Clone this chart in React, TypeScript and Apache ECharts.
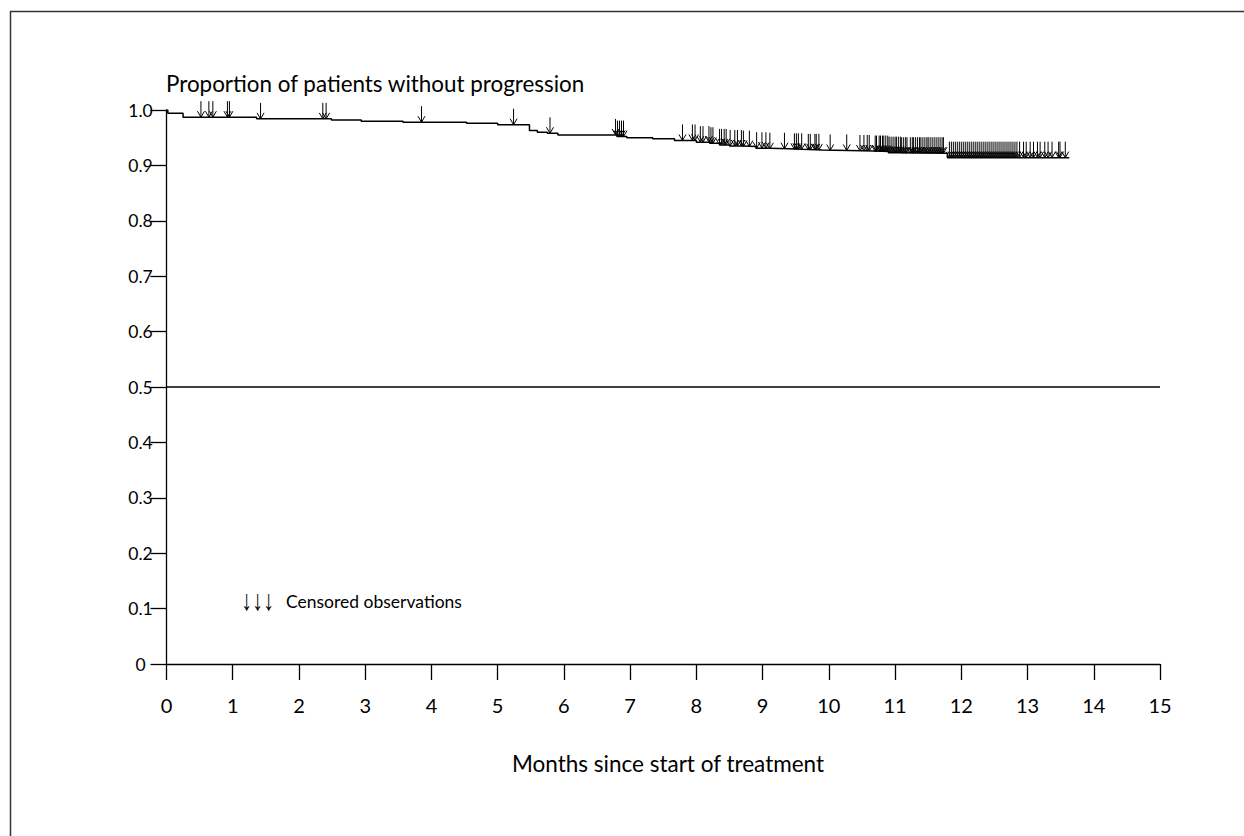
import React, { useEffect, useRef } from "react";
import * as echarts from "echarts";

// Kaplan-Meier step points: time (months) and proportion without progression
const kmTimes = [0, 0.02, 0.25, 1.36, 2.49, 2.94, 3.57, 4.53, 5.0, 5.48, 5.6, 5.75, 5.91, 6.8, 6.95, 7.34, 7.67, 8.0, 8.2, 8.35, 8.5, 8.7, 8.9, 9.1, 9.4, 9.6, 9.9, 10.3, 10.7, 10.9, 11.1, 11.79, 13.63];
const kmSurv = [1.0, 0.994, 0.987, 0.984, 0.982, 0.9795, 0.978, 0.976, 0.9735, 0.963, 0.96, 0.958, 0.955, 0.952, 0.95, 0.948, 0.945, 0.942, 0.94, 0.937, 0.935, 0.934, 0.931, 0.93, 0.929, 0.928, 0.927, 0.926, 0.925, 0.923, 0.922, 0.914, 0.914];

// Censored observation times (months)
const censoredEarly = [0.52, 0.64, 0.7, 0.92, 0.95, 1.42, 2.36, 2.41, 3.85, 5.24, 5.79, 6.78, 6.81, 6.84, 6.87, 6.9];
const censoredMid = [7.79, 7.94, 7.98, 8.06, 8.1, 8.19, 8.22, 8.25, 8.35, 8.38, 8.42, 8.45, 8.51, 8.58, 8.62, 8.68, 8.71, 8.8, 8.91, 8.99, 9.05, 9.11, 9.33, 9.48, 9.51, 9.54, 9.59, 9.69, 9.72, 9.79, 9.81, 9.85, 10.02, 10.27, 10.47, 10.53, 10.58, 10.61, 10.7, 10.72, 10.76, 10.78, 10.81, 10.83];
const censoredDense1 = [10.86, 10.89, 10.91, 10.94, 10.97, 11.0, 11.02, 11.05, 11.08, 11.1, 11.13, 11.16, 11.18, 11.23, 11.26, 11.28, 11.31, 11.34, 11.37, 11.39, 11.42, 11.45, 11.48, 11.5, 11.53, 11.56, 11.59, 11.62, 11.65, 11.68, 11.71, 11.73];
const censoredDense2 = [11.82, 11.85, 11.88, 11.91, 11.94, 11.97, 12.0, 12.03, 12.06, 12.09, 12.12, 12.15, 12.18, 12.21, 12.24, 12.27, 12.3, 12.33, 12.36, 12.39, 12.42, 12.45, 12.48, 12.51, 12.54, 12.57, 12.6, 12.63, 12.66, 12.69, 12.72, 12.75, 12.78, 12.81, 12.84];
const censoredLate = [12.88, 12.94, 12.98, 13.04, 13.09, 13.15, 13.19, 13.26, 13.31, 13.37, 13.47, 13.49, 13.57];

const xTickValues = [0, 1, 2, 3, 4, 5, 6, 7, 8, 9, 10, 11, 12, 13, 14, 15];
const referenceLevel = 0.5;

const titleText = "Proportion of patients without progression";
const xAxisTitle = "Months since start of treatment";
const legendArrows = "↓↓↓";
const legendText = "Censored observations";

const FONT = "Lato, 'Open Sans', sans-serif";

function survivalAt(t: number): number {
  let s = kmSurv[0];
  for (let i = 0; i < kmTimes.length; i++) {
    if (kmTimes[i] <= t) s = kmSurv[i];
  }
  return s;
}

export default function App() {
  const ref = useRef<HTMLDivElement>(null);

  useEffect(() => {
    if (!ref.current) return;
    const chart = echarts.init(ref.current, null, { renderer: "svg" });

    const curve = kmTimes.map((t, i) => [t, kmSurv[i]]);
    const allCensored = [
      ...censoredEarly,
      ...censoredMid,
      ...censoredDense1,
      ...censoredDense2,
      ...censoredLate,
    ].map((t) => [t, survivalAt(t)]);

    chart.setOption({
      animation: false,
      backgroundColor: "#fff",
      grid: { left: 166.5, right: 84, top: 110, bottom: 172, containLabel: false },
      xAxis: {
        type: "value",
        min: 0,
        max: 15,
        interval: 1,
        axisLine: { show: true, lineStyle: { color: "#000", width: 1.3 } },
        axisTick: { show: true, length: 16, inside: false, lineStyle: { color: "#000", width: 1.3 } },
        axisLabel: {
          color: "#000",
          fontFamily: FONT,
          fontSize: 20,
          margin: 31,
          formatter: (v: number) => (xTickValues.includes(v) ? String(v) : ""),
        },
        splitLine: { show: false },
      },
      yAxis: {
        type: "value",
        min: 0,
        max: 1,
        interval: 0.1,
        axisLine: { show: true, lineStyle: { color: "#000", width: 1.3 } },
        axisTick: { show: true, length: 16, lineStyle: { color: "#000", width: 1.3 } },
        axisLabel: {
          color: "#000",
          fontFamily: FONT,
          fontSize: 17.5,
          margin: 26,
          align: "center",
          formatter: (v: number) => (v === 0 ? "0" : v.toFixed(1)),
        },
        splitLine: { show: false },
      },
      series: [
        {
          type: "line",
          data: [
            [0, referenceLevel],
            [15, referenceLevel],
          ],
          symbol: "none",
          lineStyle: { color: "#000", width: 1.3 },
          silent: true,
        },
        {
          type: "line",
          step: "end",
          data: curve,
          symbol: "none",
          lineStyle: { color: "#000", width: 1.5 },
          silent: true,
        },
        {
          type: "custom",
          data: allCensored,
          encode: { x: 0, y: 1 },
          silent: true,
          renderItem: (params: any, api: any) => {
            const p = api.coord([api.value(0), api.value(1)]);
            return {
              type: "group",
              children: [
                {
                  type: "line",
                  shape: { x1: p[0], y1: p[1] - 16, x2: p[0], y2: p[1] },
                  style: { stroke: "#000", lineWidth: 1 },
                },
                {
                  type: "polyline",
                  shape: {
                    points: [
                      [p[0] - 3.5, p[1] - 6],
                      [p[0], p[1]],
                      [p[0] + 3.5, p[1] - 6],
                    ],
                  },
                  style: { stroke: "#000", fill: "none", lineWidth: 1 },
                },
              ],
            };
          },
        },
      ],
      graphic: [
        {
          type: "rect",
          shape: { x: 10.5, y: 11.5, width: 1400, height: 1000 },
          style: { stroke: "#333", lineWidth: 1.5, fill: "none" },
          silent: true,
        },
        {
          type: "text",
          x: 166,
          y: 83,
          style: {
            text: titleText,
            fontFamily: FONT,
            fontSize: 22.4,
            fill: "#000",
            verticalAlign: "middle",
            align: "left",
          },
        },
        {
          type: "text",
          x: 668,
          y: 763,
          style: {
            text: xAxisTitle,
            fontFamily: FONT,
            fontSize: 22.5,
            fill: "#000",
            verticalAlign: "middle",
            align: "center",
          },
        },
        {
          type: "text",
          x: 241,
          y: 600,
          scaleY: 1.3,
          style: {
            text: legendArrows,
            fontFamily: "'Liberation Sans', sans-serif",
            fontSize: 22,
            fill: "#000",
            verticalAlign: "middle",
            align: "left",
          },
        },
        {
          type: "text",
          x: 286,
          y: 601,
          style: {
            text: legendText,
            fontFamily: FONT,
            fontSize: 17.5,
            fill: "#000",
            verticalAlign: "middle",
            align: "left",
          },
        },
      ],
    });

    return () => chart.dispose();
  }, []);

  return (
    <div
      ref={ref}
      style={{ position: "absolute", left: 0, top: 0, width: 1244, height: 836 }}
    />
  );
}
